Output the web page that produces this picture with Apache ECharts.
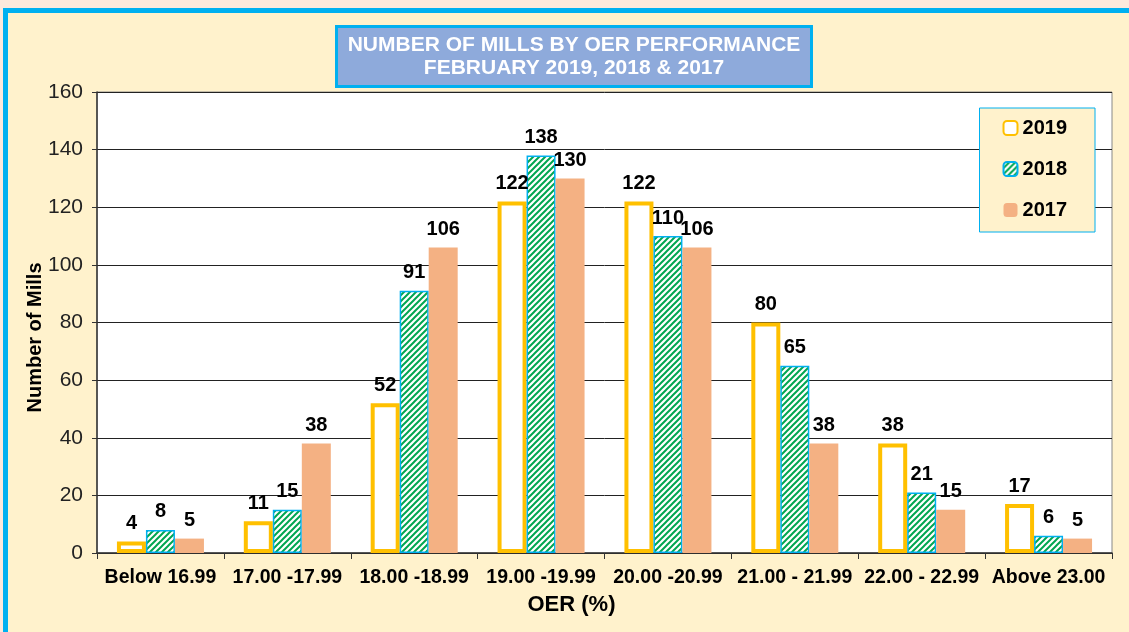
<!DOCTYPE html>
<html><head><meta charset="utf-8">
<script src="https://cdn.jsdelivr.net/npm/echarts@6/dist/echarts.min.js"></script>
<style>
html,body{margin:0;padding:0;width:1129px;height:632px;background:#fce9dc;overflow:hidden;}
#frame{position:absolute;left:3px;top:8px;width:1140px;height:640px;background:#fff2cc;border:5px solid #00b0f0;box-sizing:border-box;}
#c{position:absolute;left:0;top:0;width:1129px;height:632px;}
</style></head>
<body><div id="frame"></div><div id="c"></div>
<script>
const categories = ['Below 16.99','17.00 -17.99','18.00 -18.99','19.00 -19.99','20.00 -20.99','21.00 - 21.99','22.00 - 22.99','Above 23.00'];
const s2019 = [4, 11, 52, 122, 122, 80, 38, 17];
const s2018 = [8, 15, 91, 138, 110, 65, 21, 6];
const s2017 = [5, 38, 106, 130, 106, 38, 15, 5];
const yTicks = [0,20,40,60,80,100,120,140,160];
const titleLines = ['NUMBER OF MILLS BY OER PERFORMANCE','FEBRUARY 2019, 2018 & 2017'];

function hatch(){
  const cv=document.createElement('canvas');cv.width=6;cv.height=6;
  const g=cv.getContext('2d');
  g.fillStyle='#ffffff';g.fillRect(0,0,6,6);
  g.strokeStyle='#00a650';g.lineWidth=2;
  g.beginPath();
  g.moveTo(-3,3);g.lineTo(3,-3);
  g.moveTo(0,6);g.lineTo(6,0);
  g.moveTo(3,9);g.lineTo(9,3);
  g.stroke();
  return cv;
}
const F='Liberation Sans, Arial, sans-serif';
const chart = echarts.init(document.getElementById('c'));
const lbl = {show:true,position:'top',color:'#000',fontWeight:'bold',fontSize:20,fontFamily:F,distance:8};
chart.setOption({
  animation:false,
  graphic:[
    {type:'rect',left:335,top:25,shape:{width:475,height:60},
      style:{fill:'#8eaadb',stroke:'#00b0f0',lineWidth:3},z:10},
    {type:'text',x:574,y:57,z:11,
      style:{text:titleLines.join('\n'),fill:'#fff',font:'bold 21px Liberation Sans, Arial, sans-serif',
        textAlign:'center',textVerticalAlign:'middle',lineHeight:23}}
  ],
  legend:{orient:'vertical',right:34,top:108,backgroundColor:'#fff2cc',borderColor:'#00b0f0',borderWidth:1,
    padding:[10,28,12,23],itemGap:21,itemWidth:14,itemHeight:14,
    textStyle:{fontWeight:'bold',fontSize:20,color:'#000',fontFamily:F},
    data:['2019','2018','2017']},
  grid:{left:97,right:17,top:92,bottom:79,show:true,backgroundColor:'#fff',borderColor:'#888',borderWidth:1},
  xAxis:{type:'category',data:categories,name:'OER (%)',nameLocation:'middle',nameGap:41,nameMoveOverlap:false,
    nameTextStyle:{fontWeight:'bold',fontSize:22,color:'#000',fontFamily:F,padding:[0,66,0,0]},
    axisLine:{lineStyle:{color:'#333',width:1.5}},axisTick:{show:true,length:6,lineStyle:{color:'#333'}},
    axisLabel:{fontWeight:'bold',fontSize:19.5,color:'#000',fontFamily:F,margin:15,interval:0}},
  yAxis:{type:'value',min:0,max:160,interval:20,name:'Number of Mills',nameLocation:'middle',nameGap:52,nameMoveOverlap:false,
    nameTextStyle:{fontWeight:'bold',fontSize:20,color:'#000',fontFamily:F,padding:[0,30,0,0]},
    axisLine:{show:true,lineStyle:{color:'#333',width:1.5}},axisTick:{show:true,inside:false,length:5,lineStyle:{color:'#333'}},
    axisLabel:{fontSize:21,color:'#222',fontFamily:F,margin:14,
      formatter:v=>yTicks.includes(v)?String(v):''},
    splitLine:{lineStyle:{color:'#222',width:1}}},
  series:[
    {name:'2019',type:'bar',data:s2019,barWidth:29,barGap:'0%',
      itemStyle:{color:'#ffffff',borderColor:'#ffc000',borderWidth:4},label:lbl},
    {name:'2018',type:'bar',data:s2018,barWidth:29,barGap:'0%',
      itemStyle:{color:{image:hatch(),repeat:'repeat'},borderColor:'#00b0f0',borderWidth:1.5},label:lbl},
    {name:'2017',type:'bar',data:s2017,barWidth:29,barGap:'0%',
      itemStyle:{color:'#f4b183'},label:lbl}
  ]
});
</script></body></html>
